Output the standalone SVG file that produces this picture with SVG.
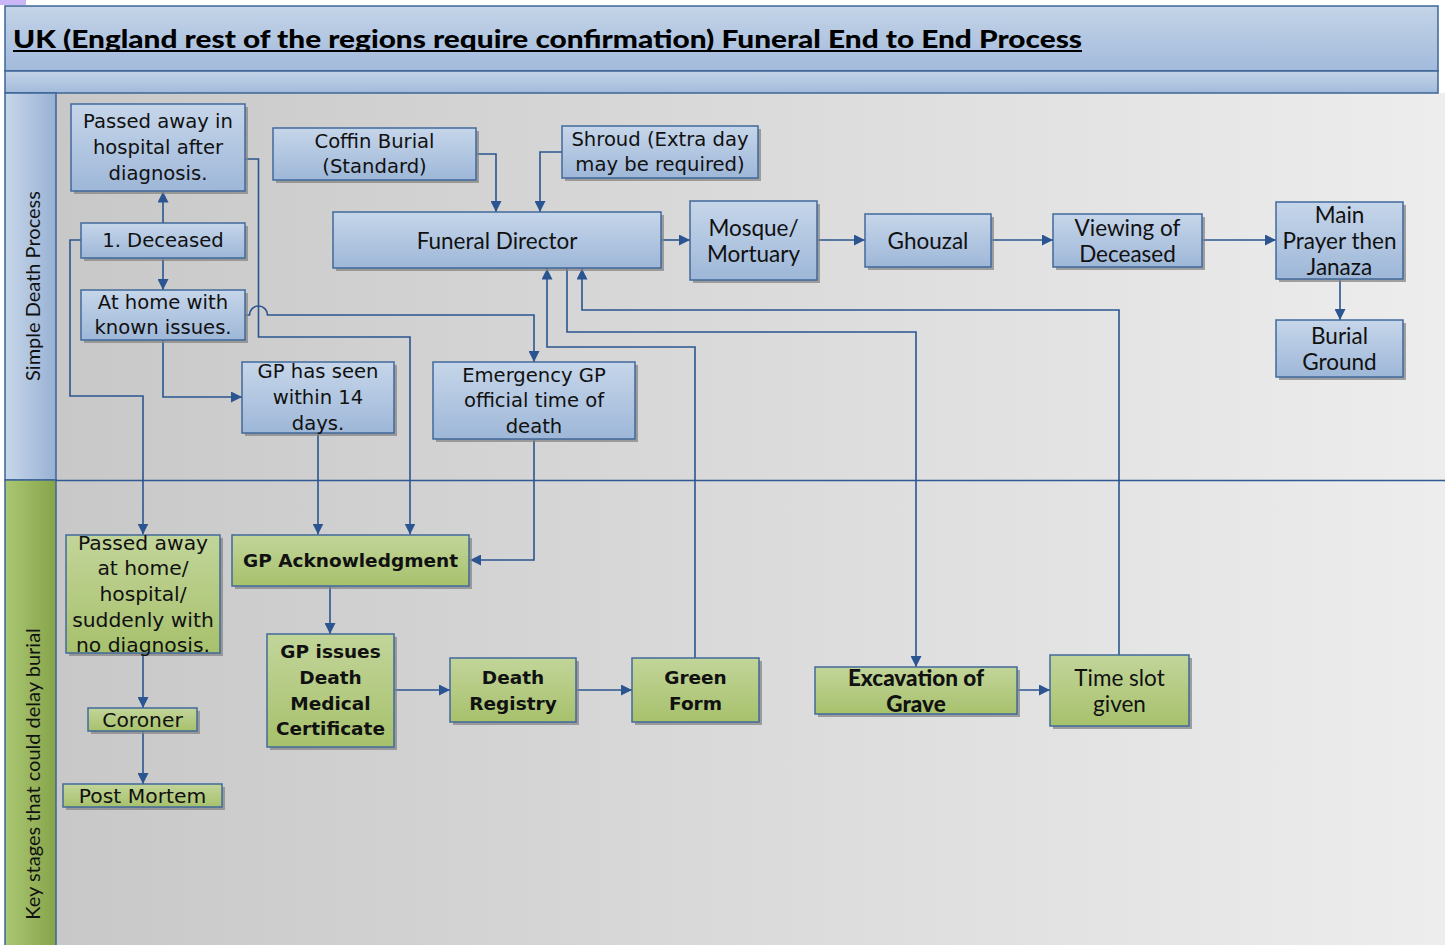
<svg xmlns="http://www.w3.org/2000/svg" width="1445" height="945" viewBox="0 0 1445 945">
<defs>
<linearGradient id="gBody" x1="0" y1="0" x2="1" y2="0"><stop offset="0" stop-color="#c8c8c8"/><stop offset="1" stop-color="#ededed"/></linearGradient>
<linearGradient id="gTitle" x1="0" y1="0" x2="0" y2="1"><stop offset="0" stop-color="#c4d4e8"/><stop offset="1" stop-color="#a2badb"/></linearGradient>
<linearGradient id="gLaneB" x1="0" y1="0" x2="1" y2="0"><stop offset="0" stop-color="#c8d7ea"/><stop offset="1" stop-color="#98b1d4"/></linearGradient>
<linearGradient id="gLaneG" x1="0" y1="0" x2="1" y2="0"><stop offset="0" stop-color="#abc774"/><stop offset="1" stop-color="#86a449"/></linearGradient>
<linearGradient id="gBlue" x1="0" y1="0" x2="0" y2="1"><stop offset="0" stop-color="#c6d6ea"/><stop offset="1" stop-color="#9eb7d8"/></linearGradient>
<linearGradient id="gGreen" x1="0" y1="0" x2="0" y2="1"><stop offset="0" stop-color="#c2d59a"/><stop offset="1" stop-color="#a7c16c"/></linearGradient>
<marker id="arr" markerUnits="userSpaceOnUse" markerWidth="12" markerHeight="11" refX="11" refY="5.5" orient="auto"><path d="M0,0 L11,5.5 L0,11 z" fill="#2a5590"/></marker>
</defs>
<style>
.sh{fill:#858585;opacity:0.75}
.nb{fill:url(#gBlue);stroke:#41699b;stroke-width:1.5}
.ng{fill:url(#gGreen);stroke:#41699b;stroke-width:1.5}
.tv{font-family:"DejaVu Sans",Verdana,sans-serif;font-size:19.6px;fill:#111;text-anchor:middle;dominant-baseline:central}
.tvg{font-family:"DejaVu Sans",Verdana,sans-serif;font-size:20.3px;fill:#111;text-anchor:middle;dominant-baseline:central}
.tvb{font-family:"DejaVu Sans",Verdana,sans-serif;font-size:18.5px;font-weight:bold;fill:#111;text-anchor:middle;dominant-baseline:central}
.tc{font-family:Lato,"Liberation Sans",sans-serif;font-size:22.5px;fill:#111;text-anchor:middle;dominant-baseline:central}
.tcb{font-family:Lato,"Liberation Sans",sans-serif;font-size:22.5px;font-weight:900;fill:#111;text-anchor:middle;dominant-baseline:central}
.lane{font-family:Lato,"Liberation Sans",sans-serif;font-size:20px;fill:#111;text-anchor:middle;dominant-baseline:central}
.c{fill:none;stroke:#2a5590;stroke-width:1.6}
.ca{fill:none;stroke:#2a5590;stroke-width:1.6;marker-end:url(#arr)}
.fr{stroke:#3e6496;stroke-width:1.5}
</style>
<rect x="0" y="0" width="1445" height="945" fill="#ffffff"/>
<rect x="0" y="0" width="26" height="5" fill="#c9b6f7"/>
<g id="background">
<rect x="56" y="93" width="1389" height="852" fill="url(#gBody)"/>
<rect x="5" y="6" width="1433" height="65" fill="url(#gTitle)" class="fr"/>
<rect x="5" y="71" width="1433" height="22" fill="url(#gTitle)" class="fr"/>
<rect x="5" y="93" width="51" height="387" fill="url(#gLaneB)" class="fr"/>
<rect x="5" y="480" width="51" height="470" fill="url(#gLaneG)" class="fr"/>
<line x1="56" y1="480.5" x2="1445" y2="480.5" stroke="#2f5a92" stroke-width="1.5"/>
<text x="13" y="48" font-family="Lato,'Liberation Sans',sans-serif" font-size="25px" font-weight="900" fill="#000" textLength="1069" lengthAdjust="spacingAndGlyphs">UK (England rest of the regions require confirmation) Funeral End to End Process</text>
<line x1="13" y1="51" x2="1082" y2="51" stroke="#000" stroke-width="2"/>
<text class="lane" transform="translate(32,286) rotate(-90)">Simple Death Process</text>
<text class="lane" transform="translate(32,774) rotate(-90)">Key stages that could delay burial</text>
</g>
<g id="connectors">
<path class="ca" d="M163,223 V191.5"/>
<path class="ca" d="M163,258 V290"/>
<path class="ca" d="M81,240 H70 V396 H143 V534.5"/>
<path class="ca" d="M163,340 V397 H242"/>
<path class="ca" d="M245,159 H258.5 V337 H410 V534.5"/>
<path class="ca" d="M245,315 H249.5 A9,9 0 0 1 267.5,315 H534 V362"/>
<path class="ca" d="M318,433 V534.5"/>
<path class="ca" d="M534,439 V560 H470"/>
<path class="ca" d="M330,586 V634"/>
<path class="ca" d="M394,690 H450"/>
<path class="ca" d="M576,690 H632"/>
<path class="ca" d="M695,658 V347 H547 V268.5"/>
<path class="ca" d="M567,268 V332 H916 V667"/>
<path class="ca" d="M1017,690 H1050"/>
<path class="ca" d="M1119,655 V310 H582 V268.5"/>
<path class="ca" d="M476,154 H496 V212"/>
<path class="ca" d="M562,152 H540 V212"/>
<path class="ca" d="M661,240 H690"/>
<path class="ca" d="M817,240 H865"/>
<path class="ca" d="M991,240 H1053"/>
<path class="ca" d="M1202,240 H1276"/>
<path class="ca" d="M1340,279 V320"/>
<path class="ca" d="M143,653 V708"/>
<path class="ca" d="M143,731 V784"/>
</g>
<g id="n_passed_hospital"><rect class="sh" x="74" y="107" width="174" height="87"/><rect class="nb" x="71" y="104" width="174" height="87"/><text class="tv" x="158" y="121">Passed away in</text><text class="tv" x="158" y="147">hospital after</text><text class="tv" x="158" y="173">diagnosis.</text></g>
<g id="n_coffin"><rect class="sh" x="276" y="131" width="203" height="52"/><rect class="nb" x="273" y="128" width="203" height="52"/><text class="tv" x="374.5" y="141">Coffin Burial</text><text class="tv" x="374.5" y="166">(Standard)</text></g>
<g id="n_shroud"><rect class="sh" x="565" y="129" width="196" height="52"/><rect class="nb" x="562" y="126" width="196" height="52"/><text class="tv" x="660" y="139">Shroud (Extra day</text><text class="tv" x="660" y="164">may be required)</text></g>
<g id="n_deceased"><rect class="sh" x="84" y="226" width="164" height="35"/><rect class="nb" x="81" y="223" width="164" height="35"/><text class="tv" x="163" y="240.5">1. Deceased</text></g>
<g id="n_athome"><rect class="sh" x="84" y="293" width="164" height="50"/><rect class="nb" x="81" y="290" width="164" height="50"/><text class="tv" x="163" y="302">At home with</text><text class="tv" x="163" y="327">known issues.</text></g>
<g id="n_gpseen"><rect class="sh" x="245" y="365" width="152" height="71"/><rect class="nb" x="242" y="362" width="152" height="71"/><text class="tv" x="318" y="371">GP has seen</text><text class="tv" x="318" y="397">within 14</text><text class="tv" x="318" y="423">days.</text></g>
<g id="n_funeral"><rect class="sh" x="336" y="215" width="328" height="56"/><rect class="nb" x="333" y="212" width="328" height="56"/><text class="tc" x="497" y="240">Funeral Director</text></g>
<g id="n_mosque"><rect class="sh" x="693" y="204" width="127" height="79"/><rect class="nb" x="690" y="201" width="127" height="79"/><text class="tc" x="753.5" y="227">Mosque/</text><text class="tc" x="753.5" y="253">Mortuary</text></g>
<g id="n_ghouzal"><rect class="sh" x="868" y="217" width="126" height="53"/><rect class="nb" x="865" y="214" width="126" height="53"/><text class="tc" x="928" y="240">Ghouzal</text></g>
<g id="n_viewing"><rect class="sh" x="1056" y="217" width="149" height="53"/><rect class="nb" x="1053" y="214" width="149" height="53"/><text class="tc" x="1127.5" y="227">Viewing of</text><text class="tc" x="1127.5" y="253">Deceased</text></g>
<g id="n_prayer"><rect class="sh" x="1279" y="205" width="127" height="77"/><rect class="nb" x="1276" y="202" width="127" height="77"/><text class="tc" x="1339.5" y="214">Main</text><text class="tc" x="1339.5" y="240">Prayer then</text><text class="tc" x="1339.5" y="266">Janaza</text></g>
<g id="n_burial"><rect class="sh" x="1279" y="323" width="127" height="57"/><rect class="nb" x="1276" y="320" width="127" height="57"/><text class="tc" x="1339.5" y="335">Burial</text><text class="tc" x="1339.5" y="361">Ground</text></g>
<g id="n_emergency"><rect class="sh" x="436" y="365" width="202" height="77"/><rect class="nb" x="433" y="362" width="202" height="77"/><text class="tv" x="534" y="375">Emergency GP</text><text class="tv" x="534" y="400">official time of</text><text class="tv" x="534" y="426">death</text></g>
<g id="n_passed_home"><rect class="sh" x="69" y="538" width="154" height="118"/><rect class="ng" x="66" y="535" width="154" height="118"/><text class="tvg" x="143" y="543">Passed away</text><text class="tvg" x="143" y="568">at home/</text><text class="tvg" x="143" y="594">hospital/</text><text class="tvg" x="143" y="620">suddenly with</text><text class="tvg" x="143" y="645">no diagnosis.</text></g>
<g id="n_gpack"><rect class="sh" x="235" y="538" width="237" height="51"/><rect class="ng" x="232" y="535" width="237" height="51"/><text class="tvb" x="350.5" y="560.5">GP Acknowledgment</text></g>
<g id="n_gpissues"><rect class="sh" x="270" y="637" width="127" height="113"/><rect class="ng" x="267" y="634" width="127" height="113"/><text class="tvb" x="330.5" y="651">GP issues</text><text class="tvb" x="330.5" y="677">Death</text><text class="tvb" x="330.5" y="703">Medical</text><text class="tvb" x="330.5" y="728">Certificate</text></g>
<g id="n_registry"><rect class="sh" x="453" y="661" width="126" height="64"/><rect class="ng" x="450" y="658" width="126" height="64"/><text class="tvb" x="513" y="677">Death</text><text class="tvb" x="513" y="703">Registry</text></g>
<g id="n_greenform"><rect class="sh" x="635" y="661" width="127" height="64"/><rect class="ng" x="632" y="658" width="127" height="64"/><text class="tvb" x="695.5" y="677">Green</text><text class="tvb" x="695.5" y="703">Form</text></g>
<g id="n_excavation"><rect class="sh" x="818" y="670" width="202" height="47"/><rect class="ng" x="815" y="667" width="202" height="47"/><text class="tcb" x="916" y="677">Excavation of</text><text class="tcb" x="916" y="703">Grave</text></g>
<g id="n_timeslot"><rect class="sh" x="1053" y="658" width="139" height="71"/><rect class="ng" x="1050" y="655" width="139" height="71"/><text class="tc" x="1119.5" y="677">Time slot</text><text class="tc" x="1119.5" y="703">given</text></g>
<g id="n_coroner"><rect class="sh" x="91" y="711" width="109" height="23"/><rect class="ng" x="88" y="708" width="109" height="23"/><text class="tvg" x="142.5" y="720">Coroner</text></g>
<g id="n_postmortem"><rect class="sh" x="66" y="787" width="159" height="23"/><rect class="ng" x="63" y="784" width="159" height="23"/><text class="tvg" x="142.5" y="796">Post Mortem</text></g>
</svg>
